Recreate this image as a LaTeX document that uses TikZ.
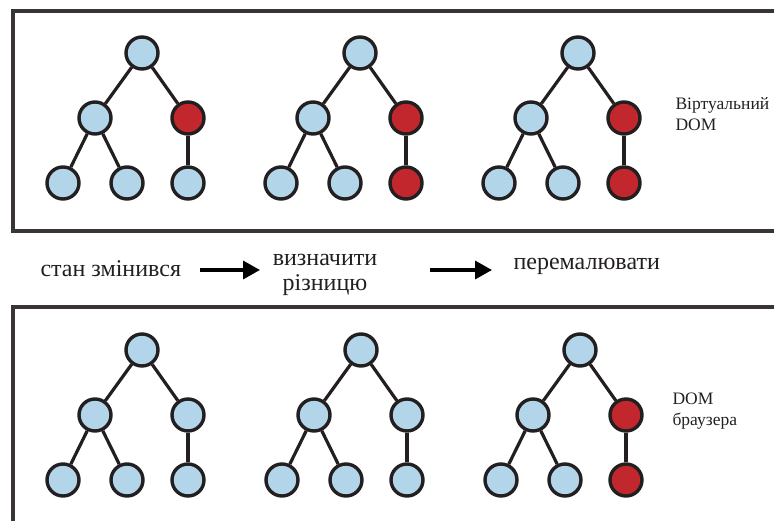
\documentclass[tikz,border=0pt]{standalone}
\usepackage{fontspec}
\setmainfont{Liberation Serif}
\usetikzlibrary{arrows.meta}
\definecolor{nodeblue}{HTML}{B3D5EA}
\definecolor{nodered}{HTML}{C1272D}
\definecolor{ink}{HTML}{231F20}
\tikzset{
  vnode/.style={circle,draw=ink,line width=3.4pt,fill=nodeblue,minimum size=32pt,inner sep=0pt},
  rnode/.style={vnode,fill=nodered},
  edge/.style={draw=ink,line width=3.2pt},
  frame/.style={draw=ink!90,line width=3.2pt},
  flowtext/.style={font=\fontsize{24}{25}\selectfont,text=ink,align=center},
  sidetext/.style={font=\fontsize{17.5}{21}\selectfont,text=ink,align=left,anchor=west},
  flowarrow/.style={draw=black,line width=3.4pt,-{Triangle[length=17pt,width=18pt]}}
}
\newcommand{\domtree}[6]{%
  \node[vnode] (#1r) at (#2,#3) {};
  \node[vnode] (#1a) at (#2-47,#3+65) {};
  \node[#4] (#1b) at (#2+46,#3+65) {};
  \node[vnode] (#1c) at (#2-79,#3+130) {};
  \node[vnode] (#1d) at (#2-15,#3+130) {};
  \node[#5] (#1e) at (#2+46,#3+130) {};
  \draw[edge] (#1r) -- (#1a);
  \draw[edge] (#1r) -- (#1b);
  \draw[edge] (#1a) -- (#1c);
  \draw[edge] (#1a) -- (#1d);
  \draw[edge] (#1b) -- (#1e);
}
\begin{document}
\begin{tikzpicture}[x=1pt,y=-1pt]
\useasboundingbox (0,0) rectangle (774,521);
\draw[frame] (780,11) -- (13,11) -- (13,231) -- (780,231);
\draw[frame] (780,307) -- (13,307) -- (13,530);
% top row
\domtree{ta}{142}{53}{rnode}{vnode}{}
\domtree{tb}{360}{53}{rnode}{rnode}{}
\domtree{tc}{578}{53}{rnode}{rnode}{}
% bottom row
\domtree{ba}{142}{350}{vnode}{vnode}{}
\domtree{bb}{361}{350}{vnode}{vnode}{}
\domtree{bc}{580}{350}{rnode}{rnode}{}
% labels
\node[sidetext] (vlabel) at (672,114) {Віртуальний\\DOM};
\node[sidetext] (blabel) at (669,411) {DOM\\браузера};
% flow
\node[flowtext,anchor=west] (state) at (37,269) {стан змінився};
\node[flowtext] (diff) at (325,275) {визначити\\різницю};
\node[flowtext,anchor=west] (repaint) at (510,266) {перемалювати};
\coordinate (a1s) at (200,270);
\coordinate (a1e) at (260,270);
\coordinate (a2s) at (430,270);
\coordinate (a2e) at (492,270);
\draw[flowarrow] (a1s) -- (a1e);
\draw[flowarrow] (a2s) -- (a2e);
\end{tikzpicture}
\end{document}
